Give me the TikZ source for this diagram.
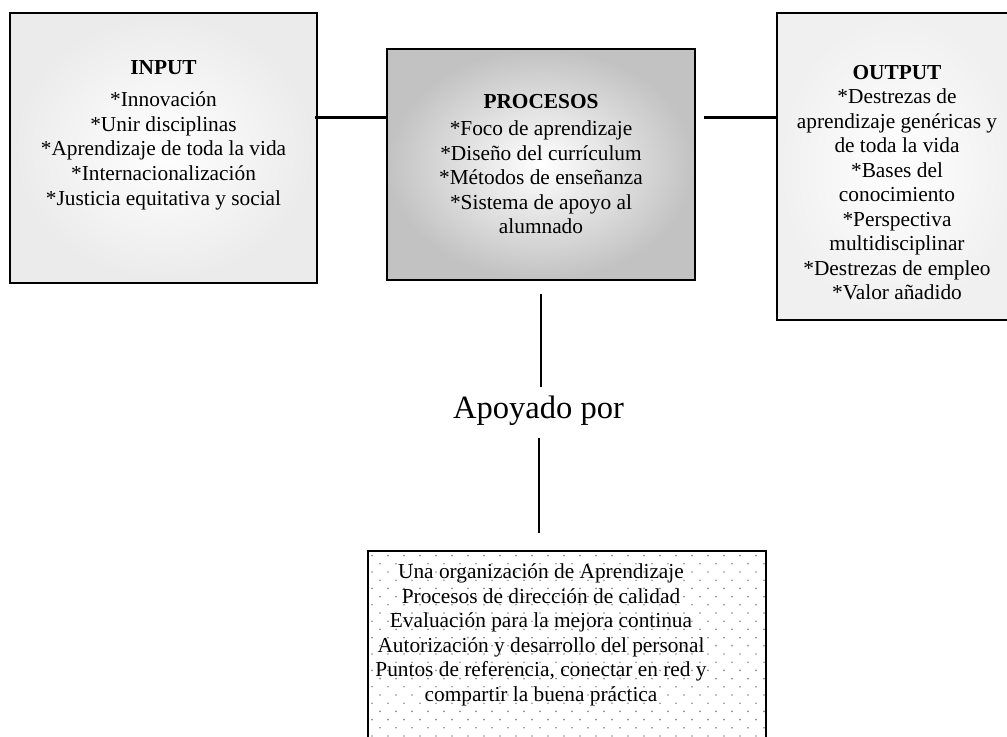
\documentclass[tikz,border=0pt]{standalone}
\usepackage{fontspec}
\setmainfont{Liberation Serif}
\usetikzlibrary{calc}
\tikzset{
  framebox/.style={draw=black, line width=1.5pt, rectangle, inner sep=0pt},
  txt/.style={align=center, inner sep=0pt, font=\fontsize{16}{18.4}\selectfont},
  conn/.style={draw=black, line width=1.8pt},
  dotc/.style={fill=black!45}
}
\begin{document}
\begin{tikzpicture}[x=0.75pt,y=-0.75pt]
\useasboundingbox (0,0) rectangle (1007,736);
% boxes
\node[framebox, shade, inner color=white, outer color=black!8,
  minimum width=230.25pt, minimum height=202.5pt] (in) at (163.5,148) {};
\node[framebox, shade, inner color=white, outer color=black!24,
  minimum width=231pt, minimum height=173.25pt] (proc) at (541,164.5) {};
\node[framebox, shade, inner color=white, outer color=black!6,
  minimum width=180pt, minimum height=230.25pt] (out) at (897,166.5) {};
\node[rectangle, fill=white, inner sep=0pt,
  minimum width=298.5pt, minimum height=148.5pt] (sup) at (567,650) {};
% dot pattern
\begin{scope}
\clip (sup.south west) rectangle (sup.north east);
\foreach \i in {0,...,26}{
  \foreach \j in {0,...,25}{
    \pgfmathsetmacro\xx{356+16*\i+8*mod(\j,2)}
    \pgfmathsetmacro\yy{555.6+8.2*\j}
    \fill[dotc] (\xx,\yy) circle[radius=0.7pt];
  }
}
\end{scope}
\draw[line width=1.5pt] (sup.south west) rectangle (sup.north east);
% texts
\node[txt] (intxt) at (163.5,135) {\textbf{INPUT}\\[6pt]{}*Innovación\\{}*Unir disciplinas\\{}*Aprendizaje de toda la vida\\{}*Internacionalización\\{}*Justicia equitativa y social};
\node[txt] (proctxt) at (541,164) {\textbf{PROCESOS}\\[2pt]{}*Foco de aprendizaje\\{}*Diseño del currículum\\{}*Métodos de enseñanza\\{}*Sistema de apoyo al\\alumnado};
\node[txt] (outtxt) at (897,182.5) {\textbf{OUTPUT}\\{}*Destrezas de\\aprendizaje genéricas y\\de toda la vida\\{}*Bases del\\conocimiento\\{}*Perspectiva\\multidisciplinar\\{}*Destrezas de empleo\\{}*Valor añadido};
\node[txt] (suptxt) at (541,635) {Una organización de Aprendizaje\\Procesos de dirección de calidad\\Evaluación para la mejora continua\\Autorización y desarrollo del personal\\Puntos de referencia, conectar en red y\\compartir la buena práctica};
\node[inner sep=0pt, font=\fontsize{24.4}{28}\selectfont] (apoyado) at (538.5,410.5) {Apoyado por};
% connectors
\coordinate (yA) at (0,117.5);
\draw[conn] ([xshift=-2.25pt]in.east |- yA) -- (proc.west |- yA);
\draw[conn] ([xshift=6pt]proc.east |- yA) -- (out.west |- yA);
\draw[conn, line width=1.5pt, shorten >=6pt] ([yshift=-9.75pt]proc.south) -- (proc.south |- apoyado.north);
\draw[conn, line width=1.5pt, shorten <=9pt, shorten >=13.5pt] (apoyado.south) -- (apoyado.south |- sup.north);
\end{tikzpicture}
\end{document}
